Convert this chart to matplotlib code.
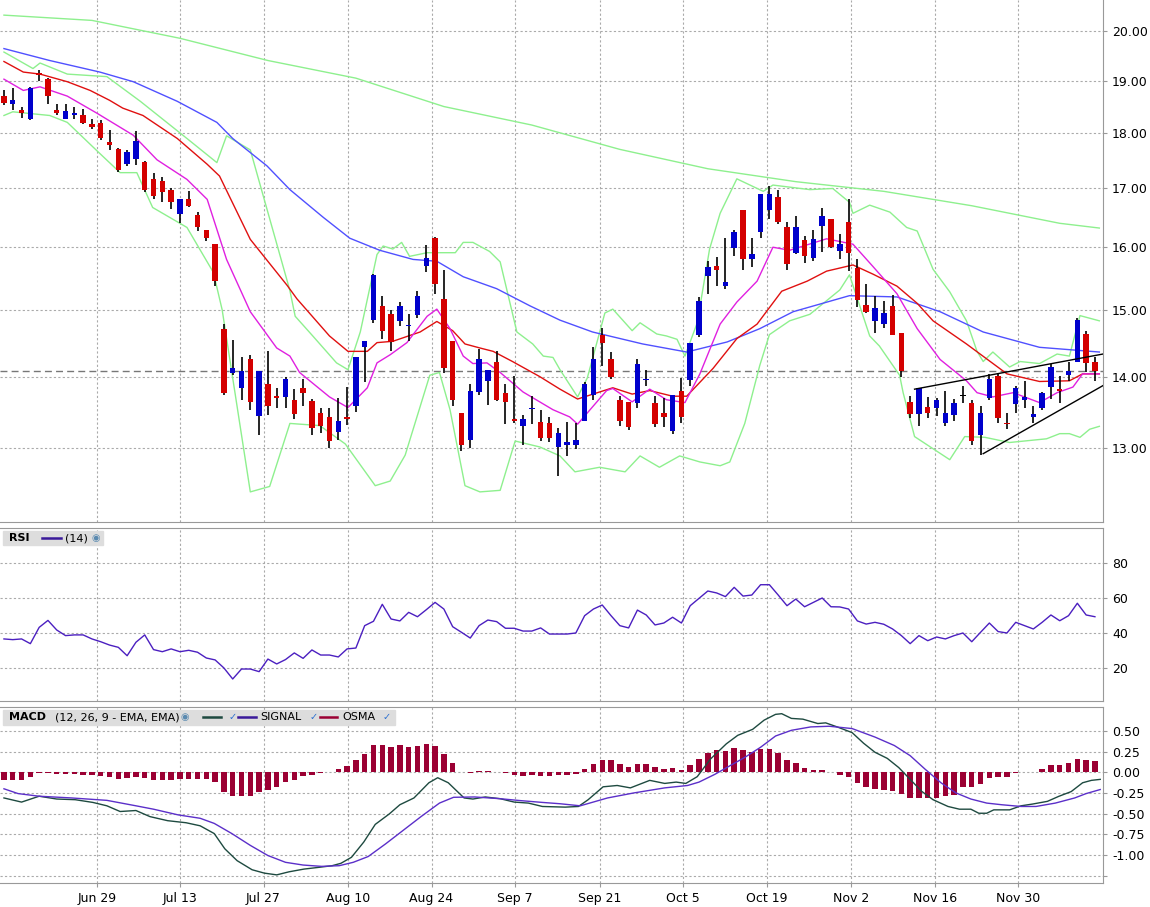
# Import libraries
import matplotlib.pyplot as plt
import matplotlib.ticker as ticker
from matplotlib.patches import Rectangle
import numpy as np


# Daily candles (open, high, low, close)
opens = [18.70, 18.54, 18.44, 18.27, 19.15, 19.04, 18.43, 18.27, 18.33, 18.33,
         18.17, 18.18, 17.84, 17.70, 17.43, 17.52, 17.47, 17.16, 17.13, 16.98,
         16.55, 16.81, 16.54, 16.28, 16.05, 14.71, 14.05, 13.83, 14.25, 13.44,
         13.89, 13.72, 13.71, 13.67, 13.84, 13.65, 13.48, 13.43, 13.22, 13.43,
         13.58, 14.44, 14.84, 15.06, 14.94, 14.83, 14.75, 14.92, 15.70, 16.15,
         15.17, 14.53, 13.49, 13.11, 13.78, 13.94, 14.21, 13.77, 13.40, 13.30,
         13.54, 13.36, 13.35, 13.02, 13.05, 13.05, 13.38, 13.73, 14.61, 14.26,
         13.67, 13.64, 13.63, 13.95, 13.63, 13.48, 13.24, 13.79, 13.95, 14.62,
         15.53, 15.70, 15.38, 15.98, 16.62, 15.81, 16.26, 16.62, 16.85, 16.34,
         15.91, 16.12, 15.83, 16.36, 16.48, 15.94, 16.42, 15.66, 15.08, 14.83,
         14.78, 15.06, 14.65, 13.64, 13.47, 13.57, 13.55, 13.35, 13.46, 13.72,
         13.63, 13.18, 13.70, 14.01, 13.35, 13.61, 13.66, 13.43, 13.56, 13.85,
         13.82, 14.03, 14.22, 14.63, 14.22]
highs = [18.81, 18.85, 18.50, 18.88, 19.22, 19.06, 18.55, 18.55, 18.50, 18.45,
         18.27, 18.24, 18.06, 17.73, 17.69, 18.04, 17.49, 17.28, 17.20, 17.00,
         16.81, 16.95, 16.59, 16.28, 16.05, 14.78, 14.54, 14.28, 14.31, 14.08,
         14.38, 13.83, 13.99, 13.82, 13.96, 13.68, 13.55, 13.55, 13.70, 13.85,
         14.29, 14.53, 15.56, 15.22, 15.00, 15.12, 14.94, 15.30, 16.03, 16.17,
         15.63, 14.53, 13.49, 13.90, 14.40, 14.10, 14.37, 13.89, 14.01, 13.45,
         13.72, 13.53, 13.43, 13.28, 13.36, 13.34, 13.92, 14.43, 14.72, 14.36,
         13.72, 13.64, 14.26, 14.10, 13.72, 13.69, 13.74, 13.98, 14.50, 15.20,
         15.78, 15.84, 16.15, 16.28, 16.62, 16.15, 16.90, 17.04, 16.98, 16.43,
         16.52, 16.19, 16.28, 16.66, 16.48, 16.22, 16.81, 15.80, 15.41, 15.22,
         15.13, 15.23, 14.65, 13.72, 13.84, 13.71, 13.69, 13.79, 13.68, 13.86,
         13.67, 13.58, 14.04, 14.05, 13.49, 13.87, 13.94, 13.58, 13.78, 14.18,
         14.01, 14.21, 14.87, 14.67, 14.29]
lows = [18.52, 18.44, 18.29, 18.24, 19.00, 18.54, 18.33, 18.26, 18.26, 18.17,
        18.08, 17.88, 17.69, 17.30, 17.40, 17.41, 16.94, 16.82, 16.76, 16.64,
        16.40, 16.68, 16.27, 16.11, 15.38, 13.74, 14.02, 13.66, 13.52, 13.18,
        13.45, 13.55, 13.55, 13.40, 13.58, 13.18, 13.21, 13.01, 13.11, 13.32,
        13.50, 13.92, 14.80, 14.55, 14.37, 14.75, 14.52, 14.88, 15.59, 15.25,
        14.05, 13.58, 12.97, 13.01, 13.74, 13.59, 13.65, 13.33, 13.35, 13.05,
        13.33, 13.10, 13.08, 12.63, 12.90, 12.99, 13.37, 13.66, 14.16, 13.97,
        13.31, 13.25, 13.55, 13.86, 13.29, 13.29, 13.20, 13.34, 13.86, 14.59,
        15.25, 15.38, 15.33, 15.85, 15.63, 15.68, 16.16, 16.47, 16.38, 15.63,
        15.89, 15.74, 15.78, 15.92, 15.99, 15.80, 15.62, 15.04, 14.95, 14.65,
        14.72, 14.61, 14.00, 13.41, 13.31, 13.42, 13.44, 13.30, 13.38, 13.62,
        13.04, 12.91, 13.66, 13.35, 13.26, 13.49, 13.55, 13.35, 13.52, 13.68,
        13.62, 13.94, 14.21, 14.06, 13.93]
closes = [18.57, 18.62, 18.37, 18.86, 19.12, 18.70, 18.37, 18.42, 18.37, 18.18,
          18.12, 17.91, 17.78, 17.33, 17.65, 17.85, 16.98, 16.87, 16.94, 16.76,
          16.81, 16.69, 16.33, 16.16, 15.45, 13.77, 14.12, 14.08, 13.64, 14.08,
          13.58, 13.70, 13.96, 13.47, 13.76, 13.28, 13.31, 13.10, 13.38, 13.40,
          14.29, 14.53, 15.55, 14.68, 14.51, 15.06, 14.77, 15.22, 15.82, 15.41,
          14.13, 13.67, 13.05, 13.79, 14.25, 14.10, 13.67, 13.64, 13.37, 13.40,
          13.56, 13.14, 13.14, 13.21, 13.08, 13.12, 13.89, 14.26, 14.50, 13.99,
          13.37, 13.29, 14.19, 13.97, 13.33, 13.43, 13.73, 13.43, 14.50, 15.14,
          15.68, 15.63, 15.43, 16.26, 15.81, 15.89, 16.90, 16.90, 16.42, 15.72,
          16.34, 15.86, 16.13, 16.53, 16.01, 16.05, 15.91, 15.15, 14.96, 15.03,
          14.95, 14.62, 14.08, 13.47, 13.83, 13.48, 13.66, 13.48, 13.62, 13.72,
          13.10, 13.49, 13.96, 13.42, 13.33, 13.83, 13.71, 13.47, 13.76, 14.14,
          13.80, 14.08, 14.85, 14.20, 14.08]

# Overlay lines (bar index, value)
sma200_x = [0, 10, 20, 30, 40, 50, 60, 70, 80, 90, 100, 110, 120, 124.5]
sma200_y = [20.33, 20.22, 19.85, 19.4, 19.05, 18.5, 18.15, 17.7, 17.35, 17.12, 16.95, 16.7, 16.4, 16.32]
sma50_x = [0, 5.2, 10.9, 14.7, 19.7, 24.2, 26, 29.9, 32.5, 36.3, 39.3, 42.7, 46.5, 49.2, 52.2,
           56, 59.8, 63.2, 66.9, 72.6, 77.6, 82.2, 85.9, 89.7, 96.1, 101.5, 106.4, 111.3, 117.7, 124.5]
sma50_y = [19.64, 19.4, 19.17, 18.98, 18.6, 18.2, 17.9, 17.4, 16.98, 16.5, 16.15, 15.95, 15.8, 15.77, 15.52,
           15.33, 15.06, 14.84, 14.66, 14.48, 14.36, 14.51, 14.71, 14.97, 15.22, 15.2, 14.97, 14.66, 14.43, 14.36]
ema20_x = [0, 2.2, 4.1, 7.2, 9.8, 12, 13.5, 15.8, 19.7, 23.1, 24.5, 28, 32.2, 33.3, 37, 39.1, 41.3,
           42.4, 44.2, 47.3, 49.2, 51, 52.4, 54.1, 55.6, 57.8, 60.9, 63.2, 65.2, 69.2, 71.4, 73.4,
           76, 77.6, 80.6, 83.3, 85.6, 88.4, 91.3, 93.5, 96.5, 98.8, 101.5, 103.8, 105.6, 109.4,
           114, 117.7, 121.1, 122.6, 124.5]
ema20_y = [19.38, 19.17, 19.13, 18.98, 18.81, 18.62, 18.47, 18.33, 17.9, 17.43, 17.22, 16.13, 15.38,
           15.17, 14.6, 14.37, 14.37, 14.5, 14.52, 14.66, 14.82, 14.68, 14.48, 14.42, 14.37, 14.22,
           14.0, 13.82, 13.68, 13.84, 13.75, 13.8, 13.72, 13.72, 14.12, 14.56, 14.78, 15.29, 15.45,
           15.61, 15.71, 15.56, 15.37, 15.1, 14.83, 14.48, 14.04, 13.93, 13.94, 14.04, 14.04]
ema10_x = [0, 2.2, 4.1, 7.2, 10.6, 14.7, 17.4, 20.8, 23.1, 25.3, 28, 31, 32.5, 33.6, 37, 39.1, 41.3,
           42.4, 43.9, 45.8, 48.1, 49.2, 50.7, 52.2, 53.3, 54.9, 56.4, 59, 62.4, 64.3, 65.2, 68.5,
           69.2, 71.4, 73.4, 75.3, 77.4, 79.1, 81.4, 83.3, 85.6, 87.4, 89.3, 93.5, 96.5, 98.8,
           101.5, 103.8, 106.4, 109.4, 110.6, 112.4, 114.7, 117.7, 119.7, 121.5, 122.6, 124.5]
ema10_y = [19.03, 18.81, 18.88, 18.7, 18.37, 17.96, 17.51, 17.16, 16.81, 15.8, 14.97, 14.42, 14.3,
           14.06, 13.71, 13.56, 13.84, 14.2, 14.32, 14.5, 14.9, 15.01, 14.71, 14.3, 14.19, 14.2,
           14.06, 13.78, 13.53, 13.43, 13.33, 13.8, 13.83, 13.64, 13.82, 13.67, 13.63, 14.04, 14.78,
           15.12, 15.45, 16.0, 15.95, 16.14, 16.05, 15.68, 15.25, 14.71, 14.25, 13.94, 13.77, 13.71,
           13.77, 13.63, 13.77, 13.85, 14.04, 14.04]
bb_up_x = [0, 3.3, 4.1, 7.2, 11.7, 15.5, 20.8, 24.2, 25.3, 28, 32.5, 33.1, 35.1, 37.8, 39.1, 40.5,
           42.4, 43.1, 44.2, 45.2, 46.1, 48.1, 51.3, 52.2, 53.3, 55.2, 56.4, 58.3, 60.1, 61.3, 62.4,
           63.2, 65.2, 66.3, 68.3, 69.2, 71.4, 72.3, 74.2, 75.3, 76.5, 77.4, 78.8, 80.2, 81.4, 83.3,
           86.3, 87.4, 91.6, 94.2, 96.1, 96.5, 98.4, 100.7, 102.6, 103.8, 105.6, 107.5, 109.4, 110.6,
           111.3, 112.4, 114.3, 115.5, 117.7, 119.7, 121.1, 122.3, 124.5]
bb_up_y = [19.57, 19.24, 19.35, 19.13, 19.08, 18.6, 17.9, 17.46, 17.95, 17.69, 15.3, 14.9, 14.6, 14.2,
           14.1, 14.66, 15.88, 16.02, 15.97, 16.08, 15.85, 15.91, 15.91, 16.08, 16.08, 15.93, 15.76,
           14.66, 14.48, 14.3, 14.28, 14.1, 13.71, 13.98, 14.95, 15.01, 14.68, 14.8, 14.63, 14.6,
           14.55, 14.3, 14.8, 15.97, 16.57, 17.17, 16.95, 17.06, 16.98, 17.0, 16.76, 16.57, 16.71,
           16.59, 16.33, 16.27, 15.64, 15.28, 14.83, 14.37, 14.22, 14.36, 14.14, 14.22, 14.19, 14.33,
           14.3, 14.91, 14.83]
bb_lo_x = [0, 1, 5.2, 7.2, 10.6, 13.2, 15.1, 16.9, 20.8, 23.8, 24.8, 28, 30.2, 32.5, 35.9, 38.8,
           42.2, 43.9, 45.6, 48.4, 49.5, 50.7, 52.4, 54.1, 56.4, 58.1, 60.9, 63.2, 64.9, 67.7, 70.6,
           72.3, 74.5, 76.8, 79.1, 81.4, 82.5, 84.2, 85.9, 87, 89.3, 91.6, 95, 96.1, 98.4, 99.5,
           101.8, 102.2, 103.5, 107.5, 109.2, 111.5, 114.3, 118.5, 120, 121.1, 122.3, 123.4, 124.5]
bb_lo_y = [18.33, 18.4, 18.33, 18.2, 17.67, 17.28, 17.28, 16.67, 16.33, 15.59, 15.0, 12.43, 12.5,
           13.34, 13.31, 13.06, 12.51, 12.57, 12.91, 14.02, 14.06, 13.53, 12.51, 12.43, 12.45, 13.1,
           13.02, 12.9, 12.69, 12.75, 12.69, 12.9, 12.75, 12.9, 12.82, 12.77, 12.82, 13.34, 14.16,
           14.62, 14.83, 14.93, 15.31, 15.55, 14.6, 14.45, 14.02, 13.77, 13.16, 12.85, 13.16, 13.15,
           13.08, 13.13, 13.2, 13.2, 13.15, 13.26, 13.3]

# Wedge trend lines drawn on the chart
wedge_top_x = [103.5, 124.9]
wedge_top_y = [13.82, 14.33]
wedge_bot_x = [111.3, 124.9]
wedge_bot_y = [12.93, 13.87]
last_price = 14.08

# RSI (14), one value per bar
rsi = [36.6, 36.2, 36.6, 33.9, 43.2, 47.2, 41.7, 38.5, 38.9, 38.9, 36.6, 35.0, 33.1, 31.8, 27.0,
       34.7, 38.9, 30.5, 29.3, 30.9, 29.3, 30.1, 29.0, 25.7, 24.6, 20.0, 13.7, 19.4, 19.4, 17.9,
       25.1, 22.3, 24.8, 28.6, 25.5, 30.3, 27.4, 27.4, 26.3, 30.9, 31.4, 44.2, 46.7, 56.4, 48.0,
       46.9, 51.8, 49.3, 53.3, 57.5, 53.7, 43.6, 40.4, 37.1, 44.2, 47.4, 46.5, 42.7, 42.7, 41.1,
       41.1, 42.9, 39.4, 39.4, 39.4, 40.0, 49.9, 53.7, 56.0, 49.9, 44.2, 42.9, 53.1, 50.3, 44.6,
       45.7, 49.0, 45.7, 55.6, 59.8, 64.0, 62.9, 60.8, 66.1, 61.1, 61.7, 67.6, 67.6, 61.7, 55.6,
       59.4, 55.0, 57.5, 60.0, 55.0, 54.9, 53.7, 46.9, 45.1, 46.1, 45.0, 42.3, 38.5, 33.9, 38.5,
       35.6, 37.7, 36.6, 38.5, 40.0, 35.0, 40.4, 45.7, 40.8, 40.0, 46.1, 44.2, 42.3, 46.1, 50.3,
       47.0, 49.9, 57.0, 50.3, 49.3]

# MACD (12, 26, 9)
osma = [-0.094, -0.094, -0.094, -0.057, -0.012, -0.008, -0.016, -0.02, -0.016, -0.033,
        -0.033, -0.045, -0.061, -0.078, -0.07, -0.053, -0.07, -0.094, -0.094, -0.094,
        -0.078, -0.078, -0.086, -0.086, -0.119, -0.242, -0.283, -0.283, -0.283, -0.242,
        -0.217, -0.184, -0.119, -0.094, -0.045, -0.033, -0.008, 0.0, 0.037, 0.074,
        0.148, 0.221, 0.332, 0.332, 0.307, 0.332, 0.307, 0.324, 0.344, 0.316,
        0.221, 0.111, 0.0, -0.008, 0.012, 0.012, 0.0, -0.008, -0.037, -0.049,
        -0.037, -0.049, -0.049,
        -0.033, -0.033, -0.02, 0.037, 0.098, 0.148, 0.148, 0.098, 0.061, 0.098,
        0.098, 0.061, 0.037, 0.049, 0.025, 0.086, 0.16, 0.234, 0.27, 0.254,
        0.295, 0.27, 0.246, 0.283, 0.283, 0.234, 0.148, 0.111, 0.049, 0.025,
        0.025, 0.0, -0.033, -0.061, -0.131, -0.18, -0.205, -0.217, -0.23, -0.266,
        -0.316, -0.316, -0.316, -0.316, -0.291, -0.27, -0.184, -0.184, -0.143, -0.074,
        -0.061, -0.061, -0.008, 0.0, 0.008, 0.037, 0.086, 0.086, 0.111, 0.16,
        0.148, 0.135]
macd_x = [0, 2, 4, 6, 8.1, 10.1, 11.7, 13.2, 15, 16.6, 18.6, 20.7, 22.3, 23.9, 25.1, 26.5, 28.2,
          29.6, 31, 32.4, 34.1, 35.7, 37.3, 38.3, 39.5, 40.9, 42.2, 43.8, 45, 46.6, 48.3, 49.3,
          50.5, 51.3, 52.3, 53.3, 54.7, 56.4, 58, 59.6, 61.2, 63.8, 65.3, 66.4, 68.1, 69.7, 71.2,
          73.4, 75.1, 76.4, 77.5, 78.8, 80.3, 82.1, 83.4, 85.1, 86.4, 87.7, 88.4, 89.5, 90.8, 92.5,
          93.4, 94.7, 96.4, 97.7, 99, 100.4, 101.7, 103, 104.3, 105.6, 107.3, 108.6, 109.9, 110.8,
          111.7, 112.5, 114.3, 115.6, 116.9, 118.6, 119.9, 121.3, 122.6, 123.6, 124.6]
macd_y = [-0.311, -0.361, -0.29, -0.324, -0.332, -0.365, -0.406, -0.475, -0.463, -0.537, -0.586,
          -0.611, -0.648, -0.742, -0.926, -1.07, -1.18, -1.221, -1.242, -1.205, -1.172, -1.152,
          -1.131, -1.102, -1.029, -0.844, -0.631, -0.504, -0.393, -0.311, -0.127, -0.066, -0.127,
          -0.209, -0.311, -0.324, -0.299, -0.32, -0.361, -0.373, -0.414, -0.422, -0.414, -0.332,
          -0.176, -0.16, -0.189, -0.098, -0.135, -0.119, -0.135, -0.053, 0.16, 0.344, 0.447, 0.52,
          0.631, 0.701, 0.709, 0.652, 0.643, 0.59, 0.598, 0.549, 0.48, 0.352, 0.242, 0.168, 0.057,
          -0.086, -0.23, -0.332, -0.414, -0.447, -0.447, -0.496, -0.496, -0.455, -0.455, -0.406,
          -0.385, -0.352, -0.291, -0.234, -0.127, -0.098, -0.086]
signal_x = [0, 1.6, 4, 7.7, 11.7, 15, 17, 19.8, 22.3, 23.9, 25.9, 28, 30, 32, 34, 36.1, 38.1, 39.7,
            41.4, 43.4, 45.4, 47.4, 49.5, 51.1, 53.5, 56.4, 58.8, 61.2, 63.2, 65.5, 68.6, 71.6,
            75.1, 77.7, 79, 80.8, 82.5, 84.2, 86, 87.7, 89.5, 91.7, 93.8, 96.4, 99, 101.2, 103,
            104.7, 106.5, 108.2, 109.9, 111.7, 113.4, 115.6, 117.3, 119.5, 121.7, 123, 124.6]
signal_y = [-0.2, -0.258, -0.29, -0.311, -0.34, -0.406, -0.447, -0.516, -0.557, -0.619, -0.742,
            -0.885, -1.008, -1.09, -1.123, -1.139, -1.131, -1.09, -1.02, -0.865, -0.701, -0.537,
            -0.373, -0.303, -0.299, -0.32, -0.344, -0.365, -0.381, -0.406, -0.311, -0.25, -0.189,
            -0.16, -0.119, -0.025, 0.078, 0.18, 0.303, 0.439, 0.508, 0.549, 0.557, 0.529, 0.426,
            0.324, 0.201, 0.037, -0.127, -0.25, -0.324, -0.373, -0.393, -0.414, -0.414, -0.373,
            -0.311, -0.258, -0.209]

# Date axis
date_pos = [10.57, 20.0, 29.5, 39.1, 48.6, 58.1, 67.7, 77.2, 86.7, 96.3, 105.8, 115.3]
date_labels = ['Jun 29', 'Jul 13', 'Jul 27', 'Aug 10', 'Aug 24', 'Sep 7', 'Sep 21',
               'Oct 5', 'Oct 19', 'Nov 2', 'Nov 16', 'Nov 30']
price_ticks = [13, 14, 15, 16, 17, 18, 19, 20]
rsi_ticks = [20, 40, 60, 80]
macd_ticks = [-1.25, -1.0, -0.75, -0.5, -0.25, 0.0, 0.25, 0.5]

idx = np.arange(len(closes))
grid_style = dict(color='#aaaaaa', linestyle=(0, (2, 2)), linewidth=0.8)
edge = '#999999'


# function to give each panel the same frame, grid and right-side labels
def style_panel(ax, show_top=True):
    ax.set_xlim(-0.45, 124.9)
    ax.yaxis.tick_right()
    ax.tick_params(axis='both', labelsize=9, length=3, color=edge)
    ax.set_xticks(date_pos)
    ax.grid(True, **grid_style)
    ax.set_axisbelow(True)
    ax.spines['left'].set_visible(False)
    ax.spines['top'].set_visible(show_top)
    for side in ['right', 'bottom', 'top']:
        ax.spines[side].set_color(edge)


fig = plt.figure(figsize=(11.5, 9.07), dpi=100)

# Price panel
ax_price = plt.axes([0.0, 0.4245, 0.959, 0.5755])
plt.vlines(idx, lows, highs, color='black', linewidth=1.2, zorder=3)
colors = []
for o, c in zip(opens, closes):
    if c > o:
        colors.append('#0000cc')  # up day
    elif c < o:
        colors.append('#d40000')  # down day
    else:
        colors.append('black')    # doji
bottoms = np.minimum(opens, closes)
heights = np.maximum(np.abs(np.array(closes) - np.array(opens)), 0.02)
plt.bar(idx, heights, bottom=bottoms, width=0.62, color=colors, zorder=4)
plt.plot(sma200_x, sma200_y, color='#8ef08e', linewidth=1, zorder=2)
plt.plot(bb_up_x, bb_up_y, color='#8ef08e', linewidth=1, zorder=2)
plt.plot(bb_lo_x, bb_lo_y, color='#8ef08e', linewidth=1, zorder=2)
plt.plot(sma50_x, sma50_y, color='#5050ff', linewidth=1, zorder=2)
plt.plot(ema20_x, ema20_y, color='#e01010', linewidth=1, zorder=2)
plt.plot(ema10_x, ema10_y, color='#e020e0', linewidth=1, zorder=2)
plt.plot(wedge_top_x, wedge_top_y, color='black', linewidth=1, zorder=5)
plt.plot(wedge_bot_x, wedge_bot_y, color='black', linewidth=1, zorder=5)
plt.axhline(last_price, color='#777777', linestyle=(0, (5, 3)), linewidth=1, zorder=1)
plt.yscale('log')
plt.ylim(12.05, 20.65)
style_panel(ax_price, show_top=False)
ax_price.yaxis.set_minor_locator(ticker.NullLocator())
plt.yticks(price_ticks, ['%.2f' % p for p in price_ticks])
ax_price.tick_params(axis='x', labelbottom=False, length=0)

# RSI panel
ax_rsi = plt.axes([0.0, 0.2271, 0.959, 0.1907])
plt.plot(idx, rsi, color='#4b1fc0', linewidth=1)
plt.ylim(1.1, 100)
style_panel(ax_rsi)
plt.yticks(rsi_ticks)
ax_rsi.tick_params(axis='x', labelbottom=False, length=0)
ax_rsi.add_patch(Rectangle((0.003, 0.9), 0.09, 0.085, transform=ax_rsi.transAxes,
                           color='#dddddd', zorder=5))
plt.text(0.008, 0.942, 'RSI', transform=ax_rsi.transAxes, fontsize=8, fontweight='bold',
         va='center', zorder=6)
plt.plot([0.038, 0.055], [0.942, 0.942], transform=ax_rsi.transAxes, color='#3a1a9a',
         linewidth=1.8, zorder=6)
plt.text(0.059, 0.942, '(14)', transform=ax_rsi.transAxes, fontsize=8, va='center', zorder=6)
plt.text(0.083, 0.942, '◉', transform=ax_rsi.transAxes, fontsize=7, color='#5a8ab0',
         va='center', zorder=6)

# MACD panel
ax_macd = plt.axes([0.0, 0.0265, 0.959, 0.194])
plt.bar(idx, osma, width=0.62, color='#9b0033', zorder=2)
plt.plot(macd_x, macd_y, color='#1e4a40', linewidth=1, zorder=3)
plt.plot(signal_x, signal_y, color='#5b2fc9', linewidth=1, zorder=3)
plt.ylim(-1.34, 0.79)
style_panel(ax_macd)
plt.yticks(macd_ticks, ['' if v == -1.25 else '%.2f' % v for v in macd_ticks])
plt.xticks(date_pos, date_labels)
ax_macd.add_patch(Rectangle((0.003, 0.9), 0.355, 0.085, transform=ax_macd.transAxes,
                            color='#dddddd', zorder=5))
plt.text(0.008, 0.942, 'MACD', transform=ax_macd.transAxes, fontsize=8, fontweight='bold',
         va='center', zorder=6)
plt.text(0.05, 0.942, '(12, 26, 9 - EMA, EMA)', transform=ax_macd.transAxes, fontsize=8,
         va='center', zorder=6)
plt.text(0.164, 0.942, '◉', transform=ax_macd.transAxes, fontsize=7, color='#5a8ab0',
         va='center', zorder=6)
legend_items = [(0.184, '#1e4a40', '', 0.207), (0.216, '#3a1a9a', 'SIGNAL', 0.281),
                (0.29, '#9b0033', 'OSMA', 0.347)]
for x0, col, name, xcheck in legend_items:
    plt.plot([x0, x0 + 0.016], [0.942, 0.942], transform=ax_macd.transAxes, color=col,
             linewidth=1.8, zorder=6)
    plt.text(x0 + 0.02, 0.942, name, transform=ax_macd.transAxes, fontsize=8,
             va='center', zorder=6)
    plt.text(xcheck, 0.942, '✓', transform=ax_macd.transAxes, fontsize=7, color='#2a6fd0',
             va='center', zorder=6)

# We save the figure
plt.savefig('out.png', dpi=100)
